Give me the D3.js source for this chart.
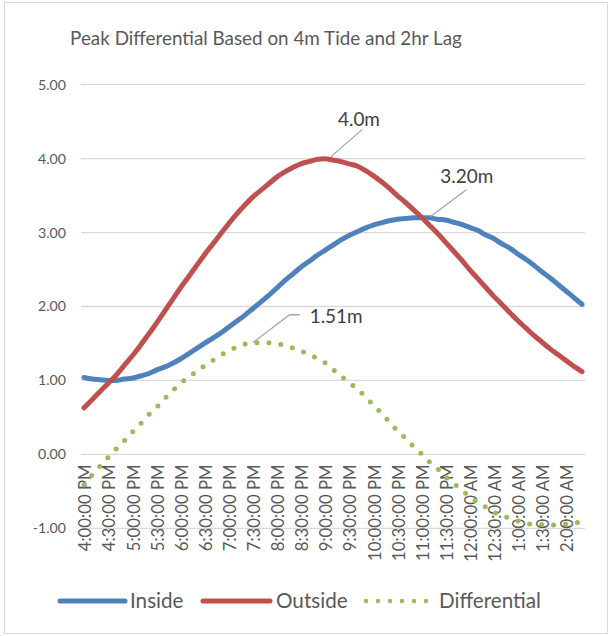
<!DOCTYPE html>
<html><head><meta charset="utf-8">
<script src="https://cdn.jsdelivr.net/npm/d3@7"></script>
<style>
body{margin:0;background:#fff}
text{font-family:Lato,"Noto Sans",sans-serif;fill:#595959}
</style>
</head><body>
<svg id="chart" width="612" height="636"></svg>
<script>
const categories = [
 "4:00:00 PM","4:10:00 PM","4:20:00 PM","4:30:00 PM","4:40:00 PM","4:50:00 PM",
 "5:00:00 PM","5:10:00 PM","5:20:00 PM","5:30:00 PM","5:40:00 PM","5:50:00 PM",
 "6:00:00 PM","6:10:00 PM","6:20:00 PM","6:30:00 PM","6:40:00 PM","6:50:00 PM",
 "7:00:00 PM","7:10:00 PM","7:20:00 PM","7:30:00 PM","7:40:00 PM","7:50:00 PM",
 "8:00:00 PM","8:10:00 PM","8:20:00 PM","8:30:00 PM","8:40:00 PM","8:50:00 PM",
 "9:00:00 PM","9:10:00 PM","9:20:00 PM","9:30:00 PM","9:40:00 PM","9:50:00 PM",
 "10:00:00 PM","10:10:00 PM","10:20:00 PM","10:30:00 PM","10:40:00 PM","10:50:00 PM",
 "11:00:00 PM","11:10:00 PM","11:20:00 PM","11:30:00 PM","11:40:00 PM","11:50:00 PM",
 "12:00:00 AM","12:10:00 AM","12:20:00 AM","12:30:00 AM","12:40:00 AM","12:50:00 AM",
 "1:00:00 AM","1:10:00 AM","1:20:00 AM","1:30:00 AM","1:40:00 AM","1:50:00 AM",
 "2:00:00 AM","2:10:00 AM","2:20:00 AM"
];
const tickLabels = [
 "4:00:00 PM","4:30:00 PM","5:00:00 PM","5:30:00 PM","6:00:00 PM","6:30:00 PM",
 "7:00:00 PM","7:30:00 PM","8:00:00 PM","8:30:00 PM","9:00:00 PM","9:30:00 PM",
 "10:00:00 PM","10:30:00 PM","11:00:00 PM","11:30:00 PM","12:00:00 AM","12:30:00 AM",
 "1:00:00 AM","1:30:00 AM","2:00:00 AM"
];
const inside = [
 1.04,1.02,1.01,1.00,1.00,1.02,1.03,1.06,1.09,1.14,1.18,1.23,1.29,1.36,1.43,1.50,1.57,1.64,
 1.72,1.80,1.88,1.97,2.06,2.15,2.25,2.35,2.44,2.53,2.61,2.69,2.76,2.83,2.90,2.96,3.01,3.06,
 3.10,3.13,3.16,3.18,3.19,3.20,3.20,3.20,3.18,3.17,3.14,3.11,3.07,3.03,2.97,2.92,2.85,2.79,
 2.71,2.64,2.56,2.47,2.39,2.30,2.21,2.12,2.03
];
const outside = [
 0.63,0.74,0.85,0.96,1.07,1.20,1.33,1.47,1.62,1.77,1.93,2.09,2.25,2.40,2.55,2.70,2.84,2.98,
 3.12,3.25,3.37,3.48,3.57,3.66,3.75,3.82,3.88,3.93,3.96,3.99,4.00,3.98,3.96,3.93,3.90,3.84,
 3.77,3.69,3.60,3.50,3.41,3.31,3.21,3.10,2.99,2.87,2.75,2.63,2.50,2.38,2.26,2.14,2.03,1.92,
 1.81,1.71,1.61,1.52,1.43,1.35,1.27,1.19,1.12
];
const differential = [
 -0.41,-0.28,-0.16,-0.04,0.07,0.18,0.30,0.41,0.53,0.63,0.75,0.86,0.96,1.04,1.12,1.20,1.27,1.34,
 1.40,1.45,1.49,1.51,1.51,1.51,1.50,1.47,1.44,1.40,1.35,1.30,1.24,1.15,1.06,0.97,0.89,0.78,
 0.67,0.56,0.44,0.32,0.22,0.11,0.01,-0.10,-0.19,-0.30,-0.39,-0.48,-0.57,-0.65,-0.71,-0.78,-0.82,-0.87,
 -0.90,-0.93,-0.95,-0.95,-0.96,-0.95,-0.94,-0.93,-0.91
];
const yTicks = [-1,0,1,2,3,4,5];
const seriesNames = ["Inside","Outside","Differential"];
const seriesColors = ["#4f81bd","#c0504d","#9bbb59"];
const peakLabels = [
 {series:"Outside", index:30, text:"4.0m"},
 {series:"Inside", index:42, text:"3.20m"},
 {series:"Differential", index:21, text:"1.51m"}
];

const svg = d3.select("#chart");
svg.append("rect").attr("x",4.5).attr("y",2.5).attr("width",603).attr("height",631)
   .attr("fill","#fff").attr("stroke","#d9d9d9").attr("stroke-width",1);

const x = d3.scalePoint().domain(categories).range([84, 582]);
const y = d3.scaleLinear().domain([-1,5]).range([528.3, 84.7]);
const plotL = 81, plotR = 585;

function fit(sel, target){
  const w = sel.node().getComputedTextLength();
  const fs = parseFloat(sel.attr("font-size"));
  const nf = fs*target/w;
  sel.attr("font-size", nf);
  return nf;
}

// title
const title = svg.append("text").attr("x",266).attr("y",45).attr("text-anchor","middle")
  .attr("font-size",18).text("Peak Differential Based on 4m Tide and 2hr Lag");
fit(title, 392);

// gridlines
svg.append("g").selectAll("line").data(yTicks).join("line")
  .attr("x1",plotL).attr("x2",plotR).attr("y1",d=>y(d)).attr("y2",d=>y(d))
  .attr("stroke","#d9d9d9").attr("stroke-width",1.3);

// y labels
const yl = svg.append("g").selectAll("text").data(yTicks).join("text")
  .attr("x",66).attr("y",d=>y(d)).attr("dy","0.35em").attr("text-anchor","end")
  .attr("font-size",15).text(d=>d.toFixed(2));
const yfs = fit(d3.select(yl.nodes()[6]), 28);
yl.attr("font-size", yfs);

// x labels
const xl = svg.append("g").selectAll("text").data(tickLabels).join("text")
  .attr("transform",d=>`translate(${x(d)+1.5},${y(0)+10}) rotate(-90)`)
  .attr("text-anchor","end").attr("dy","0.35em").attr("font-size",15).text(d=>d);
const xfs = fit(d3.select(xl.nodes()[0]), 87);
xl.attr("font-size", xfs);

// series
const seriesData = [inside, outside, differential];
const line = d3.line().x((d,i)=>x(categories[i])).y(d=>y(d)).curve(d3.curveMonotoneX);
seriesData.forEach((arr,k)=>{
  const p = svg.append("path").datum(arr).attr("d",line).attr("fill","none")
    .attr("stroke",seriesColors[k]).attr("stroke-width",5)
    .attr("stroke-linecap","round").attr("stroke-linejoin","round");
  if(k===2) p.attr("stroke-dasharray","0 12").attr("stroke-width",5);
});

// data labels
const offs = {
  "Outside":{lead:[[6,-2],[37,-29]], tx:13, ty:-33},
  "Inside":{lead:[[9,-1],[45,-28]], tx:19, ty:-35},
  "Differential":{lead:[[0,0],[37,-28],[47,-28]], tx:57, ty:-20}
};
const labelTexts = [];
let lfs = 18;
peakLabels.forEach(pl=>{
  const k = seriesNames.indexOf(pl.series);
  const val = seriesData[k][pl.index];
  const px = x(categories[pl.index]), py = y(val);
  const o = offs[pl.series];
  svg.append("path").attr("d", d3.line()(o.lead.map(q=>[px+q[0],py+q[1]])))
    .attr("fill","none").attr("stroke","#a6a6a6").attr("stroke-width",1.3);
  const t = svg.append("text").attr("x",px+o.tx).attr("y",py+o.ty).attr("font-size",18)
    .style("fill","#404040").text(pl.text);
  labelTexts.push(t);
  if(pl.text==="3.20m") lfs = fit(t, 53);
});
labelTexts.forEach(t=>t.attr("font-size", lfs));

// legend
const legY = 601;
const leg = [
  {name:"Inside", x0:60, x1:125, tx:130},
  {name:"Outside", x0:203, x1:270, tx:276},
  {name:"Differential", x0:366, x1:427, tx:439}
];
const legTexts = [];
let legfs = 18;
leg.forEach((l,k)=>{
  const ln = svg.append("line").attr("x1",l.x0).attr("x2",l.x1).attr("y1",legY).attr("y2",legY)
    .attr("stroke",seriesColors[k]).attr("stroke-width",5).attr("stroke-linecap","round");
  if(k===2) ln.attr("stroke-dasharray","0 12").attr("stroke-width",4.5);
  const t = svg.append("text").attr("x",l.tx).attr("y",legY).attr("dy","0.35em")
    .attr("font-size",18).text(l.name);
  legTexts.push(t);
  if(k===2) legfs = fit(t, 102);
});
legTexts.forEach(t=>t.attr("font-size", legfs));
</script>
</body></html>
